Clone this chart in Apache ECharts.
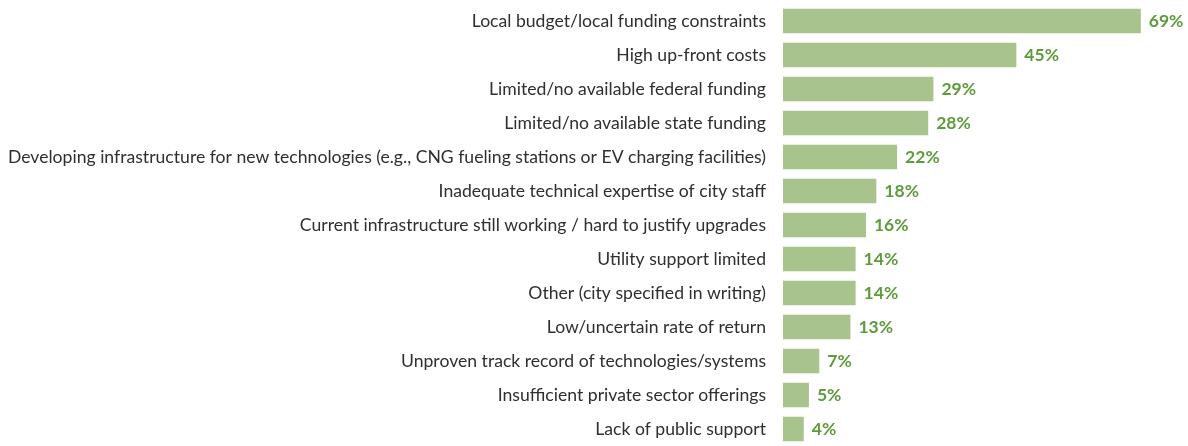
<!DOCTYPE html>
<html>
<head>
<meta charset="utf-8">
<script src="https://cdn.jsdelivr.net/npm/echarts@6/dist/echarts.min.js"></script>
<style>
  html, body { margin: 0; padding: 0; background: #fff; }
  #chart { width: 1188px; height: 446px; }
</style>
</head>
<body>
<div id="chart"></div>
<script>
// categories, top to bottom
var categories = [
  'Local budget/local funding constraints',
  'High up-front costs',
  'Limited/no available federal funding',
  'Limited/no available state funding',
  'Developing infrastructure for new technologies (e.g., CNG fueling stations or EV charging facilities)',
  'Inadequate technical expertise of city staff',
  'Current infrastructure still working / hard to justify upgrades',
  'Utility support limited',
  'Other (city specified in writing)',
  'Low/uncertain rate of return',
  'Unproven track record of technologies/systems',
  'Insufficient private sector offerings',
  'Lack of public support'
];
var values = [69, 45, 29, 28, 22, 18, 16, 14, 14, 13, 7, 5, 4];

var chart = echarts.init(document.getElementById('chart'));
var option = {
  animation: false,
  grid: {
    left: 783,
    top: 4,
    width: 363,
    height: 446,
    containLabel: false
  },
  xAxis: {
    type: 'value',
    min: 0,
    max: 70,
    show: false
  },
  yAxis: {
    type: 'category',
    inverse: true,
    data: categories,
    axisLine: { show: false },
    axisTick: { show: false },
    axisLabel: {
      color: '#2f2f2f',
      fontFamily: 'Lato',
      fontSize: 17.6,
      margin: 17
    }
  },
  series: [
    {
      type: 'bar',
      data: values,
      barCategoryGap: '28%',
      itemStyle: { color: '#a8c38b' },
      label: {
        show: true,
        position: 'right',
        distance: 8,
        formatter: '{c}%',
        color: '#5e9b3c',
        fontWeight: 'bold',
        fontFamily: 'Lato',
        fontSize: 17.5
      }
    }
  ]
};
chart.setOption(option);
</script>
</body>
</html>
